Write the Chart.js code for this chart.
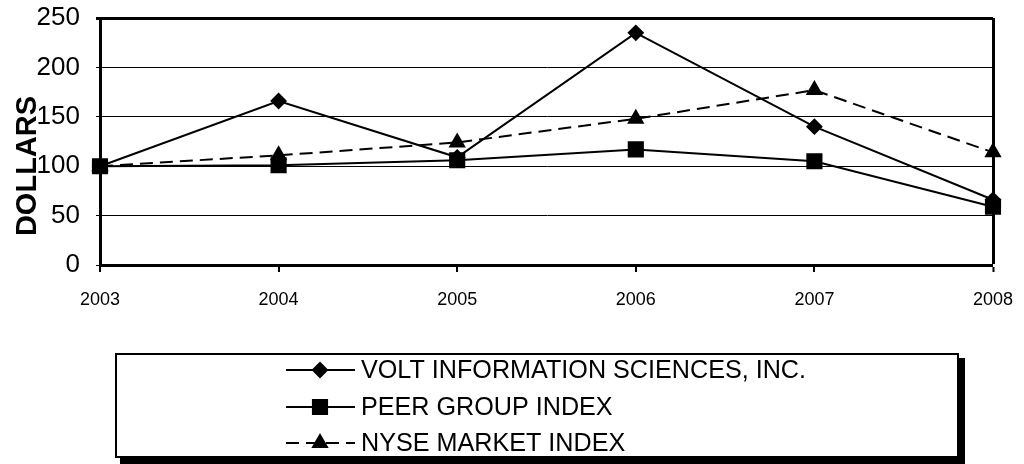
<!DOCTYPE html>
<html>
<head>
<meta charset="utf-8">
<script src="https://cdn.jsdelivr.net/npm/chart.js@4.4.1/dist/chart.umd.min.js"></script>
<style>
    html, body { margin: 0; padding: 0; background: #fff; }
    #wrap { width: 1024px; height: 464px; }
</style>
</head>
<body>
<div id="wrap"><canvas id="chartCanvas" width="1024" height="464"></canvas></div>
<script>
const years = ['2003', '2004', '2005', '2006', '2007', '2008'];
const voltValues = [100, 166, 109, 235, 140, 66];
const peerValues = [100, 101, 106, 117, 105, 59];
const nyseValues = [100, 111, 124, 148, 177, 114];
const yTicks = [0, 50, 100, 150, 200, 250];
const seriesNames = ['VOLT INFORMATION SCIENCES, INC.', 'PEER GROUP INDEX', 'NYSE MARKET INDEX'];

const FONT = '"Liberation Sans", Arial, sans-serif';

// legend box + rotated axis title, drawn by hand
const extras = {
    id: 'extras',
    afterDraw(chart) {
        const ctx = chart.ctx;
        ctx.save();

        // DOLLARS
        ctx.translate(28, 166);
        ctx.rotate(-Math.PI / 2);
        ctx.font = 'bold 29px ' + FONT;
        ctx.fillStyle = '#000';
        ctx.textAlign = 'center';
        ctx.textBaseline = 'middle';
        ctx.fillText('DOLLARS', 0, 0);
        ctx.restore();

        // legend box with shadow
        ctx.save();
        ctx.fillStyle = '#000';
        ctx.fillRect(120, 358, 845, 106);
        ctx.fillStyle = '#fff';
        ctx.fillRect(115, 353, 844, 105);
        ctx.lineWidth = 2;
        ctx.strokeStyle = '#000';
        ctx.strokeRect(116, 354, 842, 103);

        const rows = [370, 407, 443];
        ctx.font = '25px ' + FONT;
        const squeeze = 445 / ctx.measureText(seriesNames[0]).width;
        chart.data.datasets.forEach((ds, i) => {
            const y = rows[i];
            ctx.strokeStyle = '#000';
            ctx.lineWidth = 2;
            ctx.setLineDash(ds.borderDash || []);
            ctx.beginPath();
            ctx.moveTo(286, y);
            ctx.lineTo(355, y);
            ctx.stroke();
            ctx.setLineDash([]);
            Chart.helpers.drawPoint(ctx, {
                pointStyle: ds.pointStyle,
                radius: ds.pointRadius,
                rotation: 0,
                borderWidth: 1
            }, 320, y);
            ctx.fillStyle = '#000';
            ctx.fill();

            ctx.save();
            ctx.translate(361, y + 1);
            ctx.scale(squeeze, 1);
            ctx.fillStyle = '#000';
            ctx.textAlign = 'left';
            ctx.textBaseline = 'middle';
            ctx.fillText(seriesNames[i], 0, 0);
            ctx.restore();
        });
        ctx.restore();
    }
};

const ctx = document.getElementById('chartCanvas').getContext('2d');
new Chart(ctx, {
    type: 'line',
    data: {
        labels: years,
        datasets: [{
            label: seriesNames[0],
            data: voltValues,
            borderColor: '#000',
            backgroundColor: '#000',
            borderWidth: 2,
            pointStyle: 'rectRot',
            pointRadius: 7,
            tension: 0
        }, {
            label: seriesNames[1],
            data: peerValues,
            borderColor: '#000',
            backgroundColor: '#000',
            borderWidth: 2,
            pointStyle: 'rect',
            pointRadius: 10,
            tension: 0
        }, {
            label: seriesNames[2],
            data: nyseValues,
            borderColor: '#000',
            backgroundColor: '#000',
            borderWidth: 2,
            borderDash: [13, 7],
            pointStyle: 'triangle',
            pointRadius: 8,
            tension: 0
        }]
    },
    options: {
        responsive: false,
        animation: false,
        layout: { padding: { left: 0, top: 18, right: 31, bottom: 0 } },
        plugins: {
            legend: { display: false },
            tooltip: { enabled: false }
        },
        scales: {
            x: {
                offset: false,
                afterFit: scale => {
                    scale.height = 199;
                    scale.paddingLeft = 0;
                    scale.paddingRight = 0;
                },
                border: { display: true, color: '#000', width: 3 },
                grid: {
                    color: '#000',
                    lineWidth: c => (c.index === years.length - 1 ? 3 : 0),
                    tickWidth: 2,
                    tickLength: 7
                },
                ticks: {
                    color: '#000',
                    font: { family: FONT, size: 18 },
                    padding: 17,
                    maxRotation: 0
                }
            },
            y: {
                min: 0,
                max: 250,
                afterFit: scale => {
                    scale.width = 100;
                    scale.paddingTop = 0;
                    scale.paddingBottom = 0;
                },
                afterBuildTicks: scale => { scale.ticks = yTicks.map(v => ({ value: v })); },
                border: { display: true, color: '#000', width: 3 },
                grid: {
                    color: '#000',
                    lineWidth: c => (c.tick && c.tick.value === 250 ? 3 : 1),
                    tickLength: 4
                },
                ticks: {
                    color: '#000',
                    font: { family: FONT, size: 26 },
                    padding: 16
                }
            }
        }
    },
    plugins: [extras]
});
</script>
</body>
</html>
